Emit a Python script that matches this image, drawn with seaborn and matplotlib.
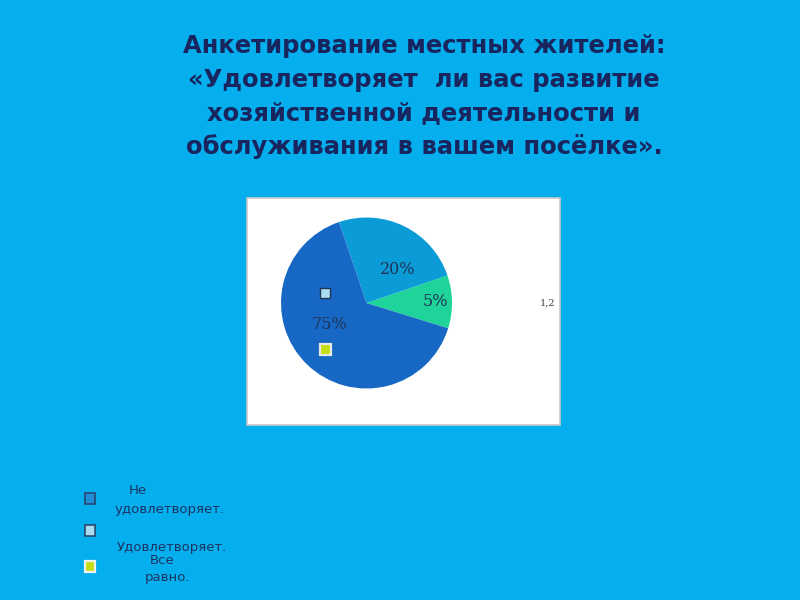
import matplotlib
matplotlib.use("Agg")
import matplotlib.pyplot as plt
import seaborn as sns
from matplotlib.patches import Rectangle

# ---- data ----
categories = ["Все равно", "Удовлетворяет", "Не удовлетворяет"]
wedge_values = [10, 25, 65]          # wedge sizes as drawn
value_labels = ["5%", "20%", "75%"]  # labels printed on the wedges
stray_label = "1,2"
title_lines = [
    "Анкетирование местных жителей:",
    "«Удовлетворяет  ли вас развитие",
    "хозяйственной деятельности и",
    "обслуживания в вашем посёлке».",
]
legend_texts = [("Не", 138, 491), ("удовлетворяет.", 170, 510),
                ("Удовлетворяет.", 172, 547), ("Все", 162, 561), ("равно.", 167, 577)]

sns.set_style("white")
plt.rcParams['font.family'] = ['DejaVu Sans']

BG = "#05aeec"
NAVY = "#19255f"
pie_colors = sns.color_palette(["#1fd49b", "#0b9bd7", "#1767c4"])

fig = plt.figure(figsize=(8, 6), dpi=100)
fig.patch.set_facecolor(BG)

# background overlay axes in pixel coordinates
ov = fig.add_axes([0, 0, 1, 1])
ov.set_xlim(0, 800)
ov.set_ylim(600, 0)
ov.axis("off")
ov.patch.set_alpha(0)

# white chart box
ov.add_patch(Rectangle((247, 198), 313, 227, facecolor="white", edgecolor="#c8c8c8", lw=1.2, zorder=1))

# title
for i, line in enumerate(title_lines):
    ov.text(424, 46 + i * 33.5, line, ha="center", va="center", fontsize=17.5,
            fontweight="bold", color=NAVY, zorder=3)

# pie axes
pax = fig.add_axes([281 / 800, 1 - 388.5 / 600, 171 / 800, 171 / 600])
pax.pie(wedge_values, colors=pie_colors, startangle=-17.2, counterclock=True,
        radius=1.0, wedgeprops=dict(linewidth=0))
pax.set_xlim(-1, 1)
pax.set_ylim(-1, 1)
pax.set_aspect("equal")
pax.axis("off")
label_pos = [(0.81, 0.015), (0.367, 0.386), (-0.435, -0.257)]
for (x, y), lab in zip(label_pos, value_labels):
    pax.text(x, y, lab, ha="center", va="center", fontsize=11.5, family="DejaVu Serif",
             color="#1f3556", zorder=5)

# foreground overlay for markers drawn on top of the pie
fg = fig.add_axes([0, 0, 1, 1])
fg.set_xlim(0, 800)
fg.set_ylim(600, 0)
fg.axis("off")
fg.patch.set_alpha(0)

# stray label
fg.text(548, 303, stray_label, ha="center", va="center", fontsize=7, family="DejaVu Serif",
        color="#444444", zorder=3)

# squares inside pie (legend markers)
fg.add_patch(Rectangle((319.5, 288), 10, 10, facecolor="#a8dcef", edgecolor="#1f3556", lw=1, zorder=6))
fg.add_patch(Rectangle((319.5, 343.5), 11, 11, facecolor="#c6dc14", edgecolor="#e8e8e8", lw=1.6, zorder=6))

# bottom legend squares
fg.add_patch(Rectangle((85, 493), 10, 11, facecolor="#1e8fd6", edgecolor="#2a3f66", lw=1.1, zorder=3))
fg.add_patch(Rectangle((85, 524.5), 10, 11, facecolor="#a8dcef", edgecolor="#2a3f66", lw=1.1, zorder=3))
fg.add_patch(Rectangle((85, 560.5), 10, 11, facecolor="#c6dc14", edgecolor="#f0f0f0", lw=1.6, zorder=3))

for txt, x, y in legend_texts:
    fg.text(x, y, txt, ha="center", va="center", fontsize=9.5, color="#1c3463", zorder=3)

fig.savefig("out.png", dpi=100, facecolor=BG)
